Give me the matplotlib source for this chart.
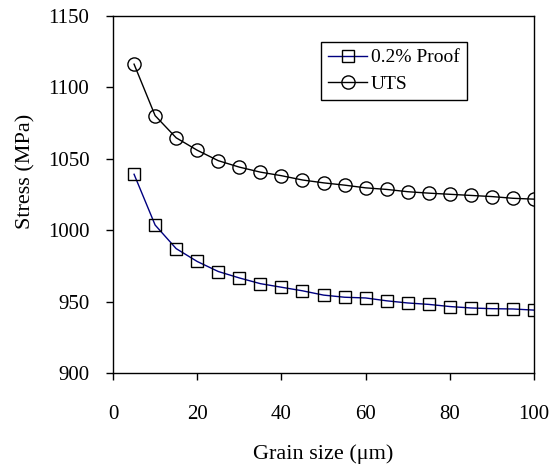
import numpy as np
import matplotlib
matplotlib.use('Agg')
import matplotlib.pyplot as plt

plt.rcParams['font.family'] = ['Liberation Serif', 'DejaVu Serif']

# data
grain = [5, 10, 15, 20, 25, 30, 35, 40, 45, 50, 55, 60, 65, 70, 75, 80, 85, 90, 95, 100]
proof = [1039, 1003.5, 987, 978, 971, 966.5, 962.5, 960, 957.5, 954.5, 953, 952.5,
         950.5, 949, 948, 946.5, 945.5, 945, 944.8, 944]
uts = [1116, 1080, 1064.5, 1055.8, 1048.5, 1044, 1040.5, 1038, 1035, 1033, 1031.4,
       1029.5, 1028.4, 1026.8, 1025.8, 1025, 1024.2, 1023.4, 1022.2, 1021.6]

fig = plt.figure(figsize=(5.54, 4.71), dpi=100)
ax = fig.add_axes([0.204, 0.208, 0.76, 0.759])

ax.plot(grain, proof, color='#000080', lw=1.0, marker='s', ms=9, mfc='none',
        mec='black', mew=1.0, label='0.2% Proof')
ax.plot(grain, uts, color='black', lw=1.0, marker='o', ms=9.5, mfc='none',
        mec='black', mew=1.0, label='UTS')

ax.set_xlim(0, 100)
ax.set_ylim(900, 1150)
ax.set_xticks(np.arange(0, 101, 20))
ax.set_yticks(np.arange(900, 1151, 50))
ax.tick_params(direction='out', length=5, width=1, labelsize=15)
ax.tick_params(axis='y', pad=12)
ax.tick_params(axis='x', pad=18)
for s in ax.spines.values():
    s.set_linewidth(1.0)

ax.set_xlabel('Grain size (\u03bcm)', fontsize=16)
ax.set_ylabel('Stress (MPa)', fontsize=16)
ax.xaxis.set_label_coords(0.5, -0.2)
ax.yaxis.set_label_coords(-0.185, 0.565)

leg = ax.legend(loc='upper left', bbox_to_anchor=(0.495, 0.926), fontsize=14,
                frameon=True, fancybox=False, edgecolor='black', framealpha=1,
                handlelength=2.0, handletextpad=0.2, borderpad=0.35,
                labelspacing=0.45, borderaxespad=0)
leg.get_frame().set_linewidth(1.0)

plt.savefig('out.png', dpi=100)
